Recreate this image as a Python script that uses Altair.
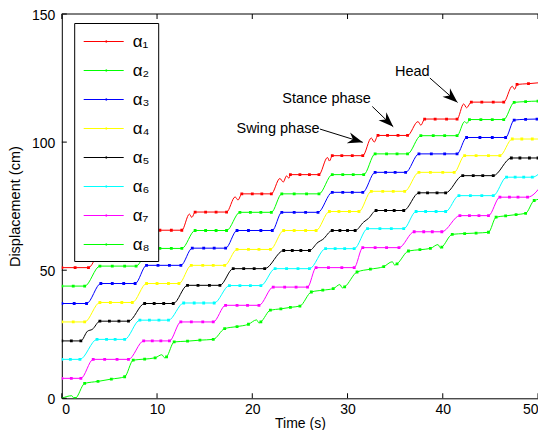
import math
import altair as alt
import pandas as pd

SERIES = ["α₁", "α₂", "α₃", "α₄", "α₅", "α₆", "α₇", "α₈"]
COLORS = ["#ff0000", "#00ff00", "#0000ff", "#ffff00", "#000000", "#00ffff", "#ff00ff", "#00ff00"]

X_MAX = 50
X_TICKS = [0, 10, 20, 30, 40, 50]
Y_TICKS = [0, 50, 100, 150]

# ---- series data (t in s, displacement in cm) ----
A1_T = [0, 1.4, 2.8, 4.2, 5.4, 6.6, 7.8, 9.2, 10.3, 11.5, 12.6, 14.0, 15.1, 16.2, 17.3, 18.9, 20.0, 21.0, 22.0,
        24.0, 25.0, 26.0, 27.0, 28.4, 29.4, 30.5, 31.6, 33.2, 34.2, 35.3, 36.3, 38.1, 39.2, 40.4, 41.5, 43.0,
        44.1, 45.3, 46.4, 47.8, 49.0, 50.2]
A1_Y = [51, 51, 51, 58.3, 58.3, 58.3, 58.3, 65.6, 65.6, 65.6, 65.6, 72.7, 72.7, 72.7, 72.7, 79.8, 79.8, 79.8,
        79.8, 87.3, 87.3, 87.3, 87.3, 94.7, 94.7, 94.7, 94.7, 102.6, 102.6, 102.6, 102.6, 109.0, 109.0, 109.0,
        109.0, 115.6, 115.6, 115.6, 115.6, 122.5, 122.8, 123.2]
A1_WT = [13.4, 13.65, 18.2, 18.5, 22.9, 23.25, 23.6, 23.85, 27.9, 28.1, 32.5, 32.8, 37.4, 37.7, 42.2, 42.5,
         47.3, 47.55, 50.7]
A1_WY = [71.9, 70.6, 78.6, 77.4, 85.8, 84.4, 86.8, 85.9, 94.0, 92.6, 101.6, 100.0, 108.0, 106.6, 114.9, 113.4,
         121.8, 120.6, 123.4]

A2_T = [0, 1.2, 2.4, 4.0, 5.3, 6.6, 7.8, 9.2, 10.3, 11.5, 12.6, 14.0, 15.1, 16.2, 17.3, 18.7, 19.8, 20.9, 22.0,
        23.1, 24.4, 25.7, 27.0, 28.4, 29.5, 30.6, 31.7, 32.9, 34.1, 35.2, 36.3, 37.7, 39.0, 40.2, 41.5, 42.8,
        44.0, 45.2, 46.4, 47.5, 48.7, 50.0]
A2_Y = [43.8, 43.8, 43.8, 51.6, 51.6, 51.6, 51.6, 58.5, 58.5, 58.5, 58.5, 65.5, 65.5, 65.5, 65.5, 72.6, 72.6,
        72.6, 72.6, 79.8, 79.8, 79.8, 79.8, 87.3, 87.3, 87.3, 87.3, 95.4, 95.4, 95.4, 95.4, 102.5, 102.5, 102.5,
        102.5, 108.8, 108.8, 108.8, 108.8, 115.5, 115.8, 116.0]
A2_WT = [42.3, 42.55, 50.7]
A2_WY = [108.0, 107.3, 116.0]

A3_T = [0, 1.3, 2.6, 4.1, 5.3, 6.5, 7.7, 8.9, 10.1, 11.3, 12.5, 13.7, 14.9, 16.0, 17.2, 18.4, 19.6, 20.9, 22.1,
        23.1, 24.4, 25.6, 26.9, 28.4, 29.5, 30.5, 31.6, 32.9, 34.0, 35.0, 36.1, 37.5, 38.8, 40.2, 41.5, 42.5,
        43.9, 45.2, 46.6, 47.5, 48.7, 49.9]
A3_Y = [37.0, 37.0, 37.0, 44.8, 44.8, 44.8, 44.8, 51.9, 51.9, 51.9, 51.9, 58.6, 58.6, 58.6, 58.6, 65.5, 65.5,
        65.5, 65.5, 72.6, 72.6, 72.6, 72.6, 80.4, 80.4, 80.4, 80.4, 88.2, 88.2, 88.2, 88.2, 95.4, 95.4, 95.4,
        95.4, 101.8, 101.8, 101.8, 101.8, 108.6, 108.9, 109.0]
A3_WT = [50.7]
A3_WY = [109.0]

A4_T = [0, 1.2, 2.4, 4.0, 5.1, 6.3, 7.4, 8.9, 10.0, 11.2, 12.3, 13.6, 14.8, 15.9, 17.1, 18.4, 19.6, 20.7, 21.9,
        23.3, 24.4, 25.6, 26.7, 28.1, 29.1, 30.2, 31.2, 32.5, 33.7, 34.8, 36.0, 37.5, 38.7, 40.0, 41.2, 42.3,
        43.5, 44.8, 46.0, 47.3, 48.3, 49.4, 50.4]
A4_Y = [29.8, 29.8, 29.8, 37.4, 37.4, 37.4, 37.4, 44.8, 44.8, 44.8, 44.8, 51.9, 51.9, 51.9, 51.9, 58.1, 58.1,
        58.1, 58.1, 65.5, 65.5, 65.5, 65.5, 72.9, 72.9, 72.9, 72.9, 80.8, 80.8, 80.8, 80.8, 88.2, 88.2, 88.2,
        88.2, 94.7, 94.7, 94.7, 94.7, 101.2, 101.2, 101.2, 101.2]
A4_WT = [50.7]
A4_WY = [103.2]

A5_T = [0, 1.0, 2.0, 4.0, 5.0, 6.0, 7.0, 8.7, 9.7, 10.7, 11.7, 13.2, 14.3, 15.5, 16.6, 18.0, 19.1, 20.2, 21.3,
        23.3, 24.2, 25.1, 26.0, 28.4, 29.2, 30.0, 30.8, 33.0, 34.0, 34.9, 35.9, 37.5, 38.4, 39.4, 40.3, 42.1,
        43.2, 44.2, 45.3, 47.2, 48.1, 49.1, 50.0]
A5_Y = [22.4, 22.4, 22.4, 30.1, 30.1, 30.1, 30.1, 37.0, 37.0, 37.0, 37.0, 44.1, 44.1, 44.1, 44.1, 50.6, 50.6,
        50.6, 50.6, 57.7, 57.7, 57.7, 57.7, 65.5, 65.5, 65.5, 65.5, 73.3, 73.3, 73.3, 73.3, 80.2, 80.2, 80.2,
        80.2, 86.9, 86.9, 86.9, 86.9, 93.8, 93.8, 93.8, 93.8]
A5_WT = [2.7, 3.2, 26.9, 27.4, 31.7, 32.2, 50.7]
A5_WY = [26.2, 26.9, 60.9, 62.0, 68.8, 70.2, 97.3]

A6_T = [0, 0.9, 1.9, 3.7, 4.7, 5.6, 6.6, 8.2, 9.2, 10.2, 11.2, 12.8, 13.9, 14.9, 16.0, 17.6, 18.7, 19.8, 20.9,
        22.4, 23.6, 24.8, 26.0, 27.7, 28.7, 29.7, 30.7, 32.1, 33.4, 34.6, 35.9, 37.2, 38.2, 39.3, 40.3, 41.7,
        42.9, 44.1, 45.3, 46.7, 47.6, 48.5, 49.4]
A6_Y = [15.2, 15.2, 15.2, 23.0, 23.0, 23.0, 23.0, 30.5, 30.5, 30.5, 30.5, 37.2, 37.2, 37.2, 37.2, 44.0, 44.0,
        44.0, 44.0, 50.6, 50.6, 50.6, 50.6, 58.4, 58.4, 58.4, 58.4, 66.2, 66.2, 66.2, 66.2, 72.9, 72.9, 72.9,
        72.9, 79.1, 79.1, 79.1, 79.1, 86.3, 86.3, 86.3, 86.3]
A6_WT = [50.7]
A6_WY = [90.2]

A7_T = [0, 1.0, 2.0, 3.3, 4.5, 5.8, 7.0, 8.6, 9.5, 10.4, 11.3, 12.5, 13.6, 14.8, 15.9, 17.2, 18.4, 19.5, 20.7,
        22.2, 23.4, 24.6, 25.8, 26.7, 28.0, 29.4, 30.7, 31.6, 32.9, 34.1, 35.4, 37.0, 38.0, 38.9, 39.9, 41.8,
        42.8, 43.8, 44.8, 46.0, 47.0, 47.9, 48.9]
A7_Y = [7.8, 7.8, 7.8, 15.2, 15.2, 15.2, 15.2, 22.4, 22.4, 22.4, 22.4, 29.8, 29.8, 29.8, 29.8, 36.3, 36.3,
        36.3, 36.3, 43.4, 43.4, 43.4, 43.4, 51.0, 51.0, 51.0, 51.0, 58.8, 58.8, 58.8, 58.8, 65.0, 65.0, 65.0,
        65.0, 71.3, 71.3, 71.3, 71.3, 78.5, 78.5, 78.5, 78.5]
A7_WT = [50.7]
A7_WY = [85.0]

A8_T = [0, 1.4, 2.4, 3.8, 5.2, 6.6, 7.5, 8.7, 9.8, 11.0, 11.8, 13.2, 14.5, 15.9, 17.1, 18.4, 19.6, 20.9, 21.9,
        23.0, 24.0, 25.0, 26.2, 27.4, 28.5, 29.7, 31.0, 32.4, 33.8, 35.2, 36.4, 37.6, 38.7, 39.9, 41.0, 42.3,
        43.5, 44.8, 45.6, 46.6, 47.7, 48.7, 49.6, 50.7]
A8_Y = [0, 0, 5.8, 6.6, 7.5, 8.4, 14.9, 15.3, 15.8, 16.2, 22.0, 22.3, 22.7, 23.0, 27.2, 28.0, 28.9, 29.8, 34.4,
        34.9, 35.5, 36.0, 41.5, 42.2, 42.8, 43.5, 49.3, 50.4, 51.4, 52.5, 57.5, 58.0, 58.5, 59.0, 64.0, 64.3,
        64.5, 64.8, 70.7, 71.2, 71.7, 72.2, 77.2, 78.0]
A8_WT = [1.05, 1.25, 10.5, 10.8, 20.45, 20.7, 29.2, 29.45, 34.7, 34.95, 39.5, 39.75]
A8_WY = [1.0, 0.1, 17.0, 15.8, 30.6, 29.4, 44.4, 43.1, 53.3, 52.0, 60.0, 58.7]

# ---- annotations ----
ANN_TEXT = ["Swing phase", "Stance phase", "Head"]
ANN_TX = [22.7, 27.8, 36.8]
ANN_TY = [105.2, 116.9, 127.4]
ARROW_X0 = [27.1, 32.6, 38.65]
ARROW_Y0 = [105.1, 113.9, 125.0]
ARROW_X1 = [31.6, 34.8, 41.55]
ARROW_Y1 = [99.9, 106.0, 115.5]

# ---- layout ----
W, H = 476.2, 384.3
FONT = "Liberation Sans"

MAIN = [(A1_T, A1_Y, A1_WT, A1_WY), (A2_T, A2_Y, A2_WT, A2_WY), (A3_T, A3_Y, A3_WT, A3_WY),
        (A4_T, A4_Y, A4_WT, A4_WY), (A5_T, A5_Y, A5_WT, A5_WY), (A6_T, A6_Y, A6_WT, A6_WY),
        (A7_T, A7_Y, A7_WT, A7_WY), (A8_T, A8_Y, A8_WT, A8_WY)]

rows = []
for name, (t, y, wt, wy) in zip(SERIES, MAIN):
    assert len(t) == len(y) and len(wt) == len(wy), name
    for a, b in zip(t, y):
        rows.append({"series": name, "t": a, "y": b, "marker": 1})
    for a, b in zip(wt, wy):
        rows.append({"series": name, "t": a, "y": b, "marker": 0})
df = pd.DataFrame(rows).sort_values(["series", "t"])
pts = df[(df["marker"] == 1) & (df["t"] <= X_MAX)]

px_x = W / X_MAX
px_y = H / 150.0
angles = []
for x0, y0, x1, y1 in zip(ARROW_X0, ARROW_Y0, ARROW_X1, ARROW_Y1):
    dx = (x1 - x0) * px_x
    dy = -(y1 - y0) * px_y
    angles.append((math.degrees(math.atan2(dy, dx)) + 90) % 360)
ann = pd.DataFrame({"label": ANN_TEXT, "tx": ANN_TX, "ty": ANN_TY,
                    "x0": ARROW_X0, "y0": ARROW_Y0, "x1": ARROW_X1, "y1": ARROW_Y1, "ang": angles})

xscale = alt.Scale(domain=[0, X_MAX], nice=False, zero=False)
yscale = alt.Scale(domain=[0, 150], nice=False)

X_AXIS = alt.Axis(
    values=X_TICKS, ticks=False, grid=False, domainColor="black", domainWidth=1, format="d",
    labelFont=FONT, labelFontSize=14, labelColor="black", labelPadding=4, labelFlush=True,
    title="Time (s)", titleFont=FONT, titleFontSize=14, titleFontWeight="normal",
    titleColor="black", titlePadding=0)
Y_AXIS = alt.Axis(
    values=Y_TICKS, ticks=False, grid=False, domainColor="black", domainWidth=1, format="d",
    labelFont=FONT, labelFontSize=14, labelColor="black", labelPadding=7, labelOffset=1,
    title="Displacement (cm)", titleFont=FONT, titleFontSize=14.5, titleFontWeight="normal",
    titleColor="black", titlePadding=9)


def X(field):
    return alt.X(field, scale=xscale, axis=X_AXIS)


def Y(field):
    return alt.Y(field, scale=yscale, axis=Y_AXIS)


color = alt.Color(
    "series:N",
    scale=alt.Scale(domain=SERIES, range=COLORS),
    legend=alt.Legend(
        title=None, orient="none", legendX=12.4, legendY=9,
        symbolType="M-0.9,0H3.1M1.3,-0.06H1.42V0.06H1.3Z",
        symbolSize=400, symbolStrokeWidth=1,
        labelFont=FONT, labelFontSize=17, labelColor="black", labelOffset=29.5,
        padding=8, rowPadding=10, strokeColor="black", fillColor="white", cornerRadius=0,
    ),
)

lines = alt.Chart(df).mark_line(interpolate="monotone", strokeWidth=1, clip=True).encode(
    x=X("t:Q"), y=Y("y:Q"), color=color, order=alt.Order("t:Q"),
)

points = alt.Chart(pts).mark_square(size=8, filled=True, opacity=1, clip=True).encode(
    x=X("t:Q"), y=Y("y:Q"),
    color=alt.Color("series:N", scale=alt.Scale(domain=SERIES, range=COLORS), legend=None),
)

arrow_lines = alt.Chart(ann).mark_rule(color="black", strokeWidth=1).encode(
    x=X("x0:Q"), y=Y("y0:Q"), x2="x1:Q", y2="y1:Q",
)
arrow_heads = alt.Chart(ann).mark_point(
    shape="M0,0L0.6,1.6L0,1.1L-0.6,1.6Z", filled=True, color="black", size=353, opacity=1, strokeWidth=0
).encode(
    x=X("x1:Q"), y=Y("y1:Q"), angle=alt.Angle("ang:Q", scale=None),
)
labels = alt.Chart(ann).mark_text(font=FONT, fontSize=14.5, color="black", align="center",
                                  baseline="middle").encode(
    x=X("tx:Q"), y=Y("ty:Q"), text="label:N",
)

xt = pd.DataFrame({"v": X_TICKS})
yt = pd.DataFrame({"v": Y_TICKS})
tick_style = dict(size=5, thickness=1, color="black", opacity=1)
bottom_ticks = alt.Chart(xt).mark_tick(orient="vertical", yOffset=-2.5, **tick_style).encode(
    x=X("v:Q"), y=alt.YDatum(0, scale=yscale, axis=Y_AXIS))
top_ticks = alt.Chart(xt).mark_tick(orient="vertical", yOffset=2.5, **tick_style).encode(
    x=X("v:Q"), y=alt.YDatum(150, scale=yscale, axis=Y_AXIS))
left_ticks = alt.Chart(yt).mark_tick(orient="horizontal", xOffset=2.5, **tick_style).encode(
    y=Y("v:Q"), x=alt.XDatum(0, scale=xscale, axis=X_AXIS))
top_border = alt.Chart(pd.DataFrame({"v": [150]})).mark_rule(color="black", strokeWidth=1).encode(
    y=Y("v:Q"), x=alt.XDatum(0, scale=xscale, axis=X_AXIS), x2=alt.datum(X_MAX))

chart = alt.layer(
    lines, points, arrow_lines, arrow_heads, labels,
    bottom_ticks, top_ticks, left_ticks, top_border,
).properties(
    width=W, height=H,
    padding={"left": 53.8, "top": 6, "right": 0, "bottom": 31.7},
    autosize=alt.AutoSizeParams(type="none"),
    background="white",
).configure_view(stroke=None)

chart.save("out.html", embed_options={"renderer": "svg", "actions": False})
